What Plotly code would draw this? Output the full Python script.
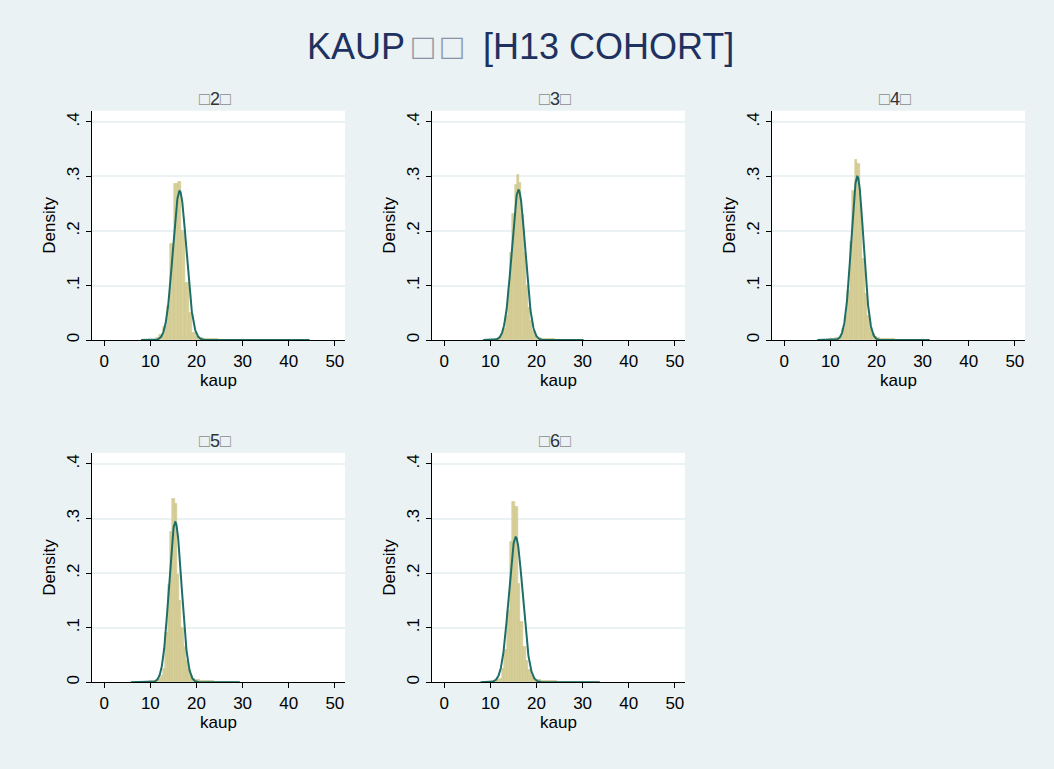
import numpy as np
import plotly.graph_objects as go

# ---------------- data ----------------
panel_titles = ["2", "3", "4", "5", "6"]

bin_start = [8.0, 8.46, 7.2, 5.75, 7.9]
bin_width = [0.795, 0.485, 0.54, 0.5, 0.573]

dens_2 = [0.0008, 0.0004, 0.0008, 0.0015, 0.004, 0.010, 0.025, 0.063, 0.177, 0.287,
          0.290, 0.200, 0.105, 0.050, 0.014, 0.006, 0.004, 0.003, 0.0025, 0.002,
          0.0018, 0.0015, 0.0012, 0.0012, 0.001, 0.001, 0.0009, 0.0008, 0.0008, 0.0006,
          0.0006, 0.0005, 0.0005, 0.0004, 0.0004, 0.0003, 0.0003, 0.0002, 0.0002, 0.0002,
          0.0001, 0.0001, 0.0001, 0.0001, 0.0001, 0.0001]
dens_3 = [0.0005, 0.0005, 0.0008, 0.001, 0.0015, 0.002, 0.003, 0.005, 0.010, 0.020,
          0.045, 0.090, 0.160, 0.231, 0.285, 0.303, 0.288, 0.230, 0.160, 0.100,
          0.060, 0.035, 0.018, 0.009, 0.005, 0.004, 0.003, 0.003, 0.0025, 0.002,
          0.002, 0.0018, 0.0015, 0.0012, 0.001, 0.001, 0.0008, 0.0007, 0.0006, 0.0005,
          0.0004, 0.0004, 0.0003, 0.0003, 0.0003]
dens_4 = [0.0005, 0.0005, 0.0008, 0.001, 0.0015, 0.002, 0.003, 0.004, 0.005, 0.008,
          0.020, 0.045, 0.090, 0.180, 0.274, 0.331, 0.323, 0.248, 0.150, 0.085,
          0.045, 0.022, 0.011, 0.006, 0.004, 0.003, 0.003, 0.0025, 0.002, 0.002,
          0.0018, 0.0015, 0.0012, 0.001, 0.001, 0.0008, 0.0007, 0.0006, 0.0005, 0.0005,
          0.0004, 0.0004, 0.0003, 0.0003, 0.0003]
dens_5 = [0.0003, 0.0003, 0.0004, 0.0005, 0.0007, 0.001, 0.0012, 0.0015, 0.002, 0.0025,
          0.003, 0.004, 0.006, 0.012, 0.025, 0.090, 0.178, 0.275, 0.337, 0.327,
          0.196, 0.150, 0.100, 0.065, 0.040, 0.022, 0.012, 0.007, 0.005, 0.004,
          0.003, 0.003, 0.0025, 0.002, 0.002, 0.0018, 0.0015, 0.0012, 0.001, 0.001,
          0.0008, 0.0007, 0.0006, 0.0005, 0.0004, 0.0003, 0.0003]
dens_6 = [0.0005, 0.0008, 0.001, 0.0015, 0.002, 0.003, 0.004, 0.007, 0.025, 0.060,
          0.130, 0.258, 0.330, 0.322, 0.180, 0.110, 0.065, 0.040, 0.022, 0.012,
          0.007, 0.005, 0.004, 0.003, 0.003, 0.0025, 0.002, 0.002, 0.0018, 0.0015,
          0.0012, 0.001, 0.001, 0.0009, 0.0008, 0.0007, 0.0006, 0.0005, 0.0005, 0.0004,
          0.0004, 0.0003, 0.0003, 0.0003, 0.0002]
densities = [dens_2, dens_3, dens_4, dens_5, dens_6]

# fitted normal parameters and data range for the overlay
norm_mean = [16.35, 16.1, 15.85, 15.4, 15.5]
norm_sd = [1.46, 1.45, 1.33, 1.36, 1.50]
data_min = [8.0, 8.46, 7.2, 5.8, 7.9]
data_max = [44.5, 30.2, 31.5, 29.4, 33.7]

x_ticks = [0, 10, 20, 30, 40, 50]
y_ticks = [0, 0.1, 0.2, 0.3, 0.4]
y_ticktext = ["0", ".1", ".2", ".3", ".4"]

# ---------------- style / layout ----------------
W, H = 1054, 769
BG = "#EAF2F3"
BAR_FILL = "rgb(214,207,152)"
BAR_LINE = "rgb(200,192,128)"
CURVE = "#1E6E68"
FONT = "Liberation Sans, Arial, sans-serif"
TXT = "#000000"

col_x0 = [92, 432, 772]
plot_w = 253
row_top = [111, 454]
row_bot = [341, 684]

fig = go.Figure()
annotations = []

def box(color):
    return '<span style="color:%s">\u25a1</span>' % color

for i in range(5):
    r, c = divmod(i, 3)
    n = i + 1
    xa = "x" if n == 1 else "x%d" % n
    ya = "y" if n == 1 else "y%d" % n
    d = densities[i]
    centers = [bin_start[i] + bin_width[i] * (k + 0.5) for k in range(len(d))]
    fig.add_trace(go.Bar(x=centers, y=d, width=bin_width[i], xaxis=xa, yaxis=ya,
                         marker=dict(color=BAR_FILL, line=dict(color=BAR_LINE, width=0.5)),
                         hoverinfo="skip"))
    xs = np.linspace(data_min[i], data_max[i], 500)
    ys = np.exp(-0.5 * ((xs - norm_mean[i]) / norm_sd[i]) ** 2) / (norm_sd[i] * np.sqrt(2 * np.pi))
    fig.add_trace(go.Scatter(x=xs, y=ys, mode="lines", xaxis=xa, yaxis=ya,
                             line=dict(color=CURVE, width=2), hoverinfo="skip"))

    x0 = col_x0[c] / W
    x1 = (col_x0[c] + plot_w) / W
    y0 = (H - row_bot[r]) / H
    y1 = (H - row_top[r]) / H
    xkey = "xaxis" if n == 1 else "xaxis%d" % n
    ykey = "yaxis" if n == 1 else "yaxis%d" % n
    fig.update_layout({
        xkey: dict(domain=[x0, x1], anchor=ya, range=[-2.65, 52.2],
                   tickvals=x_ticks, ticks="outside", ticklen=5, tickwidth=1,
                   tickcolor="#000", showline=True, linecolor="#000", linewidth=1.2,
                   showgrid=False, zeroline=False,
                   tickfont=dict(family=FONT, size=17, color=TXT),
                   title=dict(text="kaup", font=dict(family=FONT, size=17, color=TXT),
                              standoff=0)),
        ykey: dict(domain=[y0, y1], anchor=xa, range=[0, 0.4205],
                   tickvals=y_ticks, ticktext=y_ticktext, tickangle=-90,
                   ticks="outside", ticklen=5, tickwidth=1, tickcolor="#000",
                   showline=True, linecolor="#000", linewidth=1.2,
                   showgrid=True, gridcolor=BG, gridwidth=1.5, zeroline=False,
                   tickfont=dict(family=FONT, size=17, color=TXT),
                   title=dict(text="Density", font=dict(family=FONT, size=17, color=TXT),
                              standoff=4)),
    })
    cx = (col_x0[c] + plot_w / 2 - 4) / W
    ty = (H - (row_top[r] - 12)) / H
    annotations.append(dict(
        text=box("#8c8c8c") + panel_titles[i] + box("#8c8c8c"),
        x=cx, y=ty, xref="paper", yref="paper", xanchor="center", yanchor="middle",
        showarrow=False, font=dict(family=FONT, size=18, color="#333333")))

annotations.append(dict(
    text="KAUP\u2009" + box("#8a93a8") + "\u2009" + box("#8a93a8") + "  [H13 COHORT]",
    x=520 / W, y=(H - 47) / H, xref="paper", yref="paper",
    xanchor="center", yanchor="middle", showarrow=False,
    font=dict(family=FONT, size=36, color="#1F3160")))

fig.update_layout(width=W, height=H, margin=dict(l=0, r=0, t=0, b=0),
                  paper_bgcolor=BG, plot_bgcolor="white", showlegend=False,
                  bargap=0, annotations=annotations)

fig.write_html("out.html")
